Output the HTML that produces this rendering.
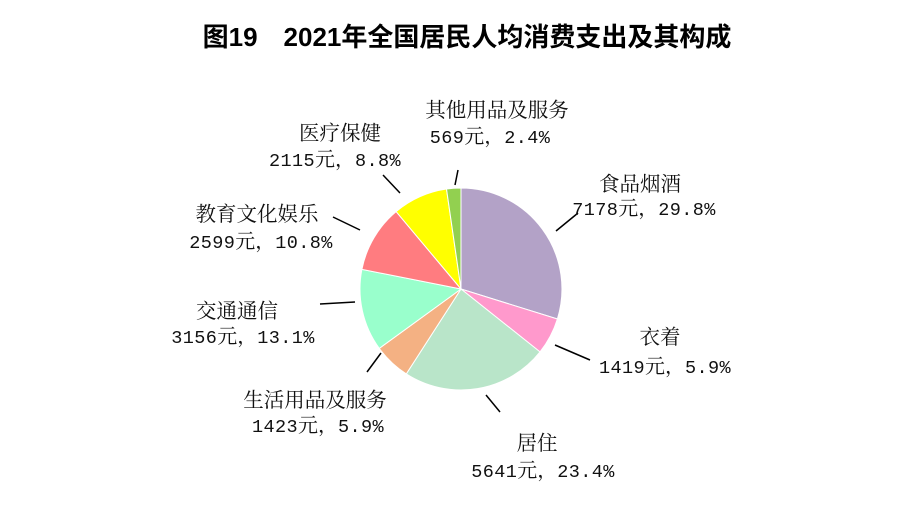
<!DOCTYPE html>
<html><head><meta charset="utf-8"><style>
html,body{margin:0;padding:0;background:#fff;}
svg{display:block;}
.t{font-family:"Noto Serif CJK SC",serif;font-size:20.5px;fill:#111;text-anchor:middle;}
.n{font-family:"Liberation Mono","Noto Serif CJK SC",monospace;font-size:18.5px;letter-spacing:0.4px;fill:#111;text-anchor:middle;}
.n tspan{font-family:"Noto Serif CJK SC",serif;font-size:20px;letter-spacing:0;}
</style></head><body>
<svg width="900" height="511" viewBox="0 0 900 511" xmlns="http://www.w3.org/2000/svg">
<text x="467" y="46" text-anchor="middle" style="font-family:'Liberation Sans','Noto Sans CJK SC',sans-serif;font-size:26px;font-weight:bold;fill:#000">图19　2021年全国居民人均消费支出及其构成</text>
<g stroke="#fff" stroke-width="1">
<path d="M461,289 L461,188 A101,101 0 0 1 557.4,319 Z" fill="#b3a2c7"/>
<path d="M461,289 L557.4,319 A101,101 0 0 1 540,351.9 Z" fill="#ff99cc"/>
<path d="M461,289 L540,351.9 A101,101 0 0 1 406.3,373.9 Z" fill="#b9e5c9"/>
<path d="M461,289 L406.3,373.9 A101,101 0 0 1 379.3,348.4 Z" fill="#f4b183"/>
<path d="M461,289 L379.3,348.4 A101,101 0 0 1 361.9,269.4 Z" fill="#99ffcc"/>
<path d="M461,289 L361.9,269.4 A101,101 0 0 1 396.1,211.6 Z" fill="#ff7c80"/>
<path d="M461,289 L396.1,211.6 A101,101 0 0 1 446.5,189 Z" fill="#ffff00"/>
<path d="M461,289 L446.5,189 A101,101 0 0 1 461,188 Z" fill="#92d050"/>
</g>
<g stroke="#000" stroke-width="1.5">
<line x1="556" y1="231" x2="578" y2="213"/>
<line x1="555" y1="345" x2="590" y2="360"/>
<line x1="486" y1="395" x2="500" y2="412"/>
<line x1="381" y1="353" x2="367" y2="372"/>
<line x1="320" y1="304" x2="355" y2="302"/>
<line x1="333" y1="217" x2="360" y2="230"/>
<line x1="383" y1="175" x2="400" y2="193"/>
<line x1="458" y1="170" x2="455" y2="185"/>
</g>
<text class="t" x="640" y="191">食品烟酒</text>
<text class="n" x="644" y="215">7178<tspan>元，</tspan>29.8%</text>
<text class="t" x="660" y="344">衣着</text>
<text class="n" x="665" y="373">1419<tspan>元，</tspan>5.9%</text>
<text class="t" x="537" y="450">居住</text>
<text class="n" x="543" y="477">5641<tspan>元，</tspan>23.4%</text>
<text class="t" x="315" y="407">生活用品及服务</text>
<text class="n" x="318" y="432">1423<tspan>元，</tspan>5.9%</text>
<text class="t" x="237" y="318">交通通信</text>
<text class="n" x="243" y="343">3156<tspan>元，</tspan>13.1%</text>
<text class="t" x="257" y="221">教育文化娱乐</text>
<text class="n" x="261" y="248">2599<tspan>元，</tspan>10.8%</text>
<text class="t" x="340" y="140">医疗保健</text>
<text class="n" x="335" y="166">2115<tspan>元，</tspan>8.8%</text>
<text class="t" x="497" y="117">其他用品及服务</text>
<text class="n" x="490" y="143">569<tspan>元，</tspan>2.4%</text>
</svg>
</body></html>
